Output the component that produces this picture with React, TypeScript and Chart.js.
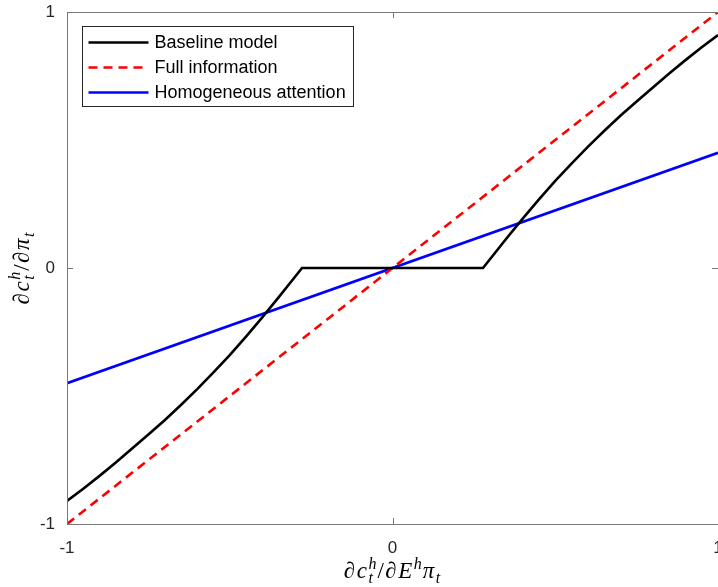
import React, { useEffect, useRef } from "react";
import { Chart, registerables } from "chart.js";

Chart.register(...registerables);

// ---- data ----
const baselineX = [
  -1, -0.95, -0.9, -0.85, -0.8, -0.75, -0.7, -0.65, -0.6, -0.55, -0.5, -0.45, -0.4, -0.35, -0.3, -0.278,
  0,
  0.278, 0.3, 0.35, 0.4, 0.45, 0.5, 0.55, 0.6, 0.65, 0.7, 0.75, 0.8, 0.85, 0.9, 0.95, 1,
];
const baselineY = [
  -0.91, -0.862, -0.812, -0.76, -0.705, -0.65, -0.595, -0.535, -0.473, -0.408, -0.34, -0.268, -0.193, -0.115, -0.035, 0,
  0,
  0, 0.035, 0.115, 0.193, 0.268, 0.34, 0.408, 0.473, 0.535, 0.595, 0.65, 0.705, 0.76, 0.812, 0.862, 0.91,
];
const fullX = [-1, 1];
const fullY = [-1, 1];
const homoX = [-1, 1];
const homoY = [-0.45, 0.45];
const xTicks = [-1, 0, 1];
const yTicks = [-1, 0, 1];
const seriesLabels = ["Baseline model", "Full information", "Homogeneous attention"];

const AXIS_COLOR = "#787878";
const TEXT_COLOR = "#262626";
const SANS = "'Liberation Sans', Arial, Helvetica, sans-serif";
const SERIF = "'Liberation Serif', 'DejaVu Serif', serif";

type Piece = { t: string; sup?: string; sub?: string; upright?: boolean };

const xTitle: Piece[] = [
  { t: "∂" },
  { t: "c", sup: "h", sub: "t" },
  { t: "/", upright: true },
  { t: "∂" },
  { t: "E", sup: "h" },
  { t: "π", sub: "t" },
];
const yTitle: Piece[] = [
  { t: "∂" },
  { t: "c", sup: "h", sub: "t" },
  { t: "/", upright: true },
  { t: "∂" },
  { t: "π", sub: "t" },
];

function drawMath(ctx: CanvasRenderingContext2D, pieces: Piece[], cx: number, cy: number, rot: number) {
  const mainF = `italic 23px ${SERIF}`;
  const upF = `23px ${SERIF}`;
  const smallF = `italic 16px ${SERIF}`;
  const gap = 1.5;
  ctx.save();
  ctx.translate(cx, cy);
  ctx.rotate(rot);
  ctx.fillStyle = "#000";
  ctx.textBaseline = "alphabetic";
  ctx.textAlign = "left";
  const widths: number[] = [];
  let total = 0;
  for (const p of pieces) {
    ctx.font = p.upright ? upF : mainF;
    const mw = ctx.measureText(p.t).width;
    ctx.font = smallF;
    const sw = Math.max(p.sup ? ctx.measureText(p.sup).width : 0, p.sub ? ctx.measureText(p.sub).width : 0);
    widths.push(mw);
    total += mw + gap + (sw ? sw + 1 : 0);
  }
  let x = -total / 2;
  pieces.forEach((p, i) => {
    ctx.font = p.upright ? upF : mainF;
    ctx.fillText(p.t, x, 0);
    x += widths[i] + gap;
    ctx.font = smallF;
    let sw = 0;
    if (p.sup) {
      ctx.fillText(p.sup, x, -9);
      sw = Math.max(sw, ctx.measureText(p.sup).width);
    }
    if (p.sub) {
      ctx.fillText(p.sub, x, 5);
      sw = Math.max(sw, ctx.measureText(p.sub).width);
    }
    if (sw) x += sw + 1;
  });
  ctx.restore();
}

const framePlugin = {
  id: "frame",
  afterDatasetsDraw(chart: any) {
    const ctx: CanvasRenderingContext2D = chart.ctx;
    const { left, right, top, bottom } = chart.chartArea;
    const xs = chart.scales.x;
    const ys = chart.scales.y;
    ctx.save();
    ctx.strokeStyle = AXIS_COLOR;
    ctx.lineWidth = 1;
    ctx.beginPath();
    ctx.rect(Math.round(left) + 0.5, Math.round(top) + 0.5, Math.round(right - left), Math.round(bottom - top));
    ctx.stroke();
    const tl = 6;
    ctx.beginPath();
    for (const v of xTicks) {
      const px = Math.round(xs.getPixelForValue(v)) + 0.5;
      ctx.moveTo(px, bottom);
      ctx.lineTo(px, bottom - tl);
      ctx.moveTo(px, top);
      ctx.lineTo(px, top + tl);
    }
    for (const v of yTicks) {
      const py = Math.round(ys.getPixelForValue(v)) + 0.5;
      ctx.moveTo(left, py);
      ctx.lineTo(left + tl, py);
      ctx.moveTo(right, py);
      ctx.lineTo(right - tl, py);
    }
    ctx.stroke();
    ctx.restore();

    // legend
    const ds = chart.data.datasets;
    const bx = left + 15.5;
    const by = top + 14.5;
    ctx.save();
    ctx.font = `18px ${SANS}`;
    let maxW = 0;
    ds.forEach((d: any) => (maxW = Math.max(maxW, ctx.measureText(d.label).width)));
    const bw = Math.round(73 + maxW + 7);
    const bh = 80;
    ctx.fillStyle = "#fff";
    ctx.fillRect(bx, by, bw, bh);
    ctx.strokeStyle = "#262626";
    ctx.lineWidth = 1;
    ctx.strokeRect(bx, by, bw, bh);
    ds.forEach((d: any, i: number) => {
      const cy = by + 16 + i * 25;
      ctx.beginPath();
      ctx.strokeStyle = d.borderColor;
      ctx.lineWidth = d.borderWidth;
      ctx.setLineDash(d.borderDash || []);
      ctx.moveTo(bx + 6, cy);
      ctx.lineTo(bx + 66, cy);
      ctx.stroke();
      ctx.setLineDash([]);
      ctx.fillStyle = "#000";
      ctx.textBaseline = "middle";
      ctx.textAlign = "left";
      ctx.fillText(d.label, bx + 72, cy + 0.5);
    });
    ctx.restore();
  },
  afterDraw(chart: any) {
    const ctx: CanvasRenderingContext2D = chart.ctx;
    const { left, right, top, bottom } = chart.chartArea;
    drawMath(ctx, xTitle, (left + right) / 2, 578, 0);
    drawMath(ctx, yTitle, 29, (top + bottom) / 2, -Math.PI / 2);
  },
};

export default function App() {
  const ref = useRef<HTMLCanvasElement | null>(null);
  useEffect(() => {
    if (!ref.current) return;
    const chart = new Chart(ref.current, {
      type: "line",
      data: {
        datasets: [
          {
            label: seriesLabels[0],
            data: baselineX.map((x, i) => ({ x, y: baselineY[i] })),
            borderColor: "#000000",
            backgroundColor: "#000000",
            borderWidth: 2.6,
            pointRadius: 0,
            tension: 0,
          },
          {
            label: seriesLabels[1],
            data: fullX.map((x, i) => ({ x, y: fullY[i] })),
            borderColor: "#ff0000",
            backgroundColor: "#ff0000",
            borderWidth: 2.6,
            borderDash: [9, 6],
            pointRadius: 0,
          },
          {
            label: seriesLabels[2],
            data: homoX.map((x, i) => ({ x, y: homoY[i] })),
            borderColor: "#0000ff",
            backgroundColor: "#0000ff",
            borderWidth: 2.6,
            pointRadius: 0,
          },
        ],
      },
      options: {
        responsive: false,
        animation: false,
        devicePixelRatio: 1,
        layout: { padding: { top: 12, left: 0, right: 0, bottom: 0 } },
        plugins: { legend: { display: false }, tooltip: { enabled: false } },
        scales: {
          x: {
            type: "linear",
            min: -1,
            max: 1,
            afterBuildTicks: (s: any) => {
              s.ticks = xTicks.map((v) => ({ value: v }));
            },
            ticks: { color: TEXT_COLOR, font: { family: SANS, size: 17 }, padding: 14, maxRotation: 0 },
            grid: { display: false, drawTicks: false },
            border: { display: false },
            afterFit: (s: any) => {
              s.height = 63;
              s.paddingLeft = 0;
              s.paddingRight = 0;
            },
          },
          y: {
            type: "linear",
            min: -1,
            max: 1,
            afterBuildTicks: (s: any) => {
              s.ticks = yTicks.map((v) => ({ value: v }));
            },
            ticks: { color: TEXT_COLOR, font: { family: SANS, size: 17 }, padding: 12 },
            grid: { display: false, drawTicks: false },
            border: { display: false },
            afterFit: (s: any) => {
              s.width = 67;
              s.paddingTop = 0;
              s.paddingBottom = 0;
            },
          },
        },
      },
      plugins: [framePlugin],
    });
    return () => chart.destroy();
  }, []);
  return (
    <div style={{ position: "fixed", left: 0, top: 0, width: 718, height: 587, overflow: "hidden", background: "#fff" }}>
      <canvas ref={ref} width={718} height={587} style={{ display: "block" }} />
    </div>
  );
}
